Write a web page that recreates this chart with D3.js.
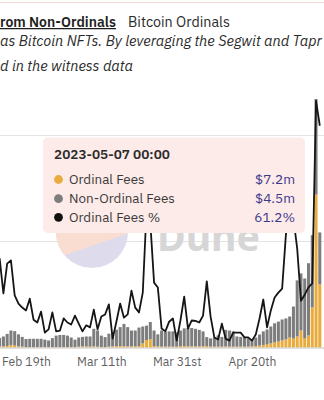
<!DOCTYPE html>
<html>
<head>
<meta charset="utf-8">
<script src="https://cdn.jsdelivr.net/npm/d3@7"></script>
<style>
  html, body { margin: 0; padding: 0; background: #ffffff; }
  svg { display: block; }
</style>
</head>
<body>
<div id="chart"></div>
<script>
// ---------------- DATA ----------------
const startDay = "2023-02-12";
const endDay = "2023-05-09"; // exclusive
// Ordinal fees per day, $ millions
const ordinalFees = [
  0.05,0.05,0.07,0.12,0.09,0.05,0.04,0.02,0.02,0.02,0.02,0.02,0.02,0.02,0.02,0.02,0.02,
  0.02,0.02,0.02,0.02,0.04,0.05,0.05,0.04,0.05,0.04,0.02,0.02,0.04,0.05,0.06,0.07,0.06,0.05,0.05,0.05,0.07,0.19,0.35,0.40,0.07,0.05,0.04,0.04,0.04,0.04,0.04,
  0.05,0.07,0.05,0.05,0.05,0.05,0.05,0.07,0.04,0.04,0.04,0.04,0.05,0.04,0.04,0.04,0.04,0.04,0.04,0.05,0.07,0.09,0.12,0.14,0.19,0.24,0.28,0.33,0.38,0.47,
  0.42,0.52,0.80,0.42,0.57,1.89,7.2,2.97
];
// Non-ordinal fees per day, $ millions
const nonOrdinalFees = [
  0.40,0.47,0.57,0.68,0.68,0.57,0.46,0.38,0.39,0.39,0.39,0.39,0.35,0.31,0.42,0.54,0.57,
  0.57,0.54,0.45,0.35,0.43,0.45,0.47,0.48,0.83,0.76,0.54,0.47,0.61,0.67,0.78,0.89,1.05,0.91,0.75,0.75,0.87,0.80,0.68,0.80,0.73,0.57,0.76,0.69,0.72,0.72,0.67,
  0.75,0.83,0.87,0.87,0.83,0.78,0.71,0.42,0.39,0.43,0.53,0.46,0.78,0.76,0.72,0.48,0.46,0.43,0.39,0.35,0.40,0.52,0.64,0.71,0.80,0.90,0.94,0.99,0.99,0.99,
  1.51,2.64,2.69,2.83,3.40,3.40,4.5,2.45
];
// Ordinal fees share, %
const ordinalPct = [
  22.1,13.4,20.8,21.6,12.9,10.9,9.9,9.2,12.1,6.9,6.2,8.9,3.7,4.5,8.7,4.0,4.2,
  7.2,6.2,5.7,7.9,5.9,4.0,5.5,5.0,9.4,4.5,7.7,8.2,10.7,2.2,6.4,10.9,7.4,8.2,14.1,9.9,8.7,13.6,34,31,16.1,14.9,4.7,4.0,6.4,7.2,1.7,
  6.7,12.6,4.7,6.7,6.6,6.2,7.9,16.4,7.7,2.5,2.0,5.9,2.2,1.7,3.7,3.7,3.7,2.5,2.5,1.7,3.2,7.2,11.9,5.0,9.2,12.4,13.6,14.6,28.0,34,
  32,24.5,11.6,13.1,14.9,15.9,61.2,55.0
];
const seriesNames = ["Ordinal Fees", "Non-Ordinal Fees", "Ordinal Fees %"];
const tickDates = ["2023-02-19", "2023-03-11", "2023-03-31", "2023-04-20"];
const tickLabels = ["Feb 19th", "Mar 11th", "Mar 31st", "Apr 20th"];
const titleParts = ["rom Non-Ordinals", "Bitcoin Ordinals"];
const subtitleLines = ["as Bitcoin NFTs. By leveraging the Segwit and Tapr", "d in the witness data"];
const tooltipDate = "2023-05-07";
const tooltipHeader = "2023-05-07 00:00";
const watermarkText = "Dune";

// ---------------- LAYOUT ----------------
const W = 324, H = 400;
const FONT = "'IBM Plex Sans', Inter, 'Noto Sans', sans-serif";
const colors = { ord: "#e9ab3b", non: "#7d7d7d", line: "#151515", grid: "#e3e3e3", axis: "#c4c4c4", tick: "#5f5f5f" };
const plotBottom = 347.5, plotTop = 29;

const parse = d3.utcParse("%Y-%m-%d");
const dates = d3.utcDay.range(parse(startDay), parse(endDay));
const data = dates.map((d, i) => ({ date: d, ord: ordinalFees[i], non: nonOrdinalFees[i], pct: ordinalPct[i] }));

const svg = d3.select("#chart").append("svg").attr("width", W).attr("height", H)
  .style("font-family", FONT);

const x = d3.scaleUtc().domain([parse(tickDates[0]), parse(tickDates[3])]).range([26, 252]);
const yL = d3.scaleLinear().domain([0, 15]).range([plotBottom, plotTop]);
const yR = d3.scaleLinear().domain([0, 79]).range([plotBottom, plotTop]);
const dayW = x(parse("2023-02-20")) - x(parse("2023-02-19"));
const bw = dayW * 0.8;

function fitFont(sel, target) {
  const w = sel.node().getComputedTextLength();
  const fs = parseFloat(sel.attr("font-size"));
  const nf = fs * target / w;
  sel.attr("font-size", nf);
  return nf;
}

// faint top border line
svg.append("line").attr("x1", 0).attr("x2", W).attr("y1", 2.5).attr("y2", 2.5)
  .attr("stroke", "#f3d8d3").attr("stroke-width", 1);

// Title
const t1 = svg.append("text").attr("x", 0).attr("y", 26.5).attr("font-size", 15)
  .attr("font-weight", 600).attr("fill", "#1e1e1e").text(titleParts[0]);
fitFont(t1, 116);
svg.append("line").attr("x1", 0).attr("x2", 116).attr("y1", 28.6).attr("y2", 28.6)
  .attr("stroke", "#1e1e1e").attr("stroke-width", 1.2);
const t2 = svg.append("text").attr("x", 128).attr("y", 26.5).attr("font-size", 15)
  .attr("fill", "#2a2a2a").text(titleParts[1]);
fitFont(t2, 102);

// Subtitle
const s1 = svg.append("text").attr("x", 0).attr("y", 46).attr("font-size", 15)
  .attr("font-style", "italic").attr("fill", "#2a2a2a").text(subtitleLines[0]);
const sfs = fitFont(s1, 322);
svg.append("text").attr("x", 0).attr("y", 70.5).attr("font-size", sfs)
  .attr("font-style", "italic").attr("fill", "#2a2a2a").text(subtitleLines[1]);

// Gridlines
svg.append("g").selectAll("line").data([5, 10]).join("line")
  .attr("x1", 0).attr("x2", W).attr("y1", d => Math.round(yL(d)) + 0.5).attr("y2", d => Math.round(yL(d)) + 0.5)
  .attr("stroke", colors.grid).attr("stroke-width", 1);

// Watermark
const wm = svg.append("g");
const cx = 92, cy = 232, r = 36;
wm.append("clipPath").attr("id", "wmclip").append("circle").attr("cx", cx).attr("cy", cy).attr("r", r);
wm.append("circle").attr("cx", cx).attr("cy", cy).attr("r", r).attr("fill", "#dedcec");
wm.append("path").attr("clip-path", "url(#wmclip)")
  .attr("d", `M${cx - r - 5},${cy + 28} L${cx + r + 5},${cy - 0.5} L${cx + r + 5},${cy - r - 5} L${cx - r - 5},${cy - r - 5} Z`)
  .attr("fill", "#f9ddd0");
const wt = wm.append("text").attr("x", 157).attr("y", 251).attr("font-size", 40).attr("font-weight", 700)
  .attr("fill", "#d6d6d6").attr("font-family", "'Noto Sans', sans-serif").text(watermarkText);
fitFont(wt, 103);

// Bars
const stack = d3.stack().keys(["ord", "non"]);
const layers = stack(data);
svg.append("g").selectAll("g").data(layers).join("g")
  .attr("fill", (d, i) => i === 0 ? colors.ord : colors.non)
  .selectAll("rect").data(d => d).join("rect")
  .attr("x", d => x(d.data.date) - bw / 2)
  .attr("width", bw)
  .attr("y", d => yL(d[1]))
  .attr("height", d => Math.max(0, yL(d[0]) - yL(d[1])));

// Axis
const xAxis = d3.axisBottom(x).tickValues(tickDates.map(parse)).tickFormat((d, i) => tickLabels[i]).tickSize(0).tickPadding(0);
const ax = svg.append("g").attr("transform", `translate(0,${plotBottom})`).call(xAxis);
ax.select(".domain").remove();
ax.selectAll("text").attr("fill", colors.tick).attr("font-family", FONT).attr("font-size", 13).attr("dy", null);
const xfs = fitFont(ax.select(".tick text"), 49);
ax.selectAll("text").attr("font-size", xfs).attr("y", 18.5);
svg.append("line").attr("x1", 0).attr("x2", W).attr("y1", plotBottom + 0.5).attr("y2", plotBottom + 0.5)
  .attr("stroke", colors.axis).attr("stroke-width", 1);

// Line
const line = d3.line().x(d => x(d.date)).y(d => yR(d.pct));
svg.append("path").datum(data).attr("d", line).attr("fill", "none")
  .attr("stroke", colors.line).attr("stroke-width", 1.8).attr("stroke-linejoin", "round");

// Tooltip
const tip = data.find(d => +d.date === +parse(tooltipDate));
const tg = svg.append("g").attr("transform", "translate(43,137.5)");
tg.append("rect").attr("width", 262).attr("height", 95.5).attr("rx", 5).attr("fill", "#fdebe9");
const hdr = tg.append("text").attr("x", 11).attr("y", 21.5).attr("font-size", 13).attr("font-weight", 600)
  .attr("fill", "#2b2b2b").text(tooltipHeader);
fitFont(hdr, 116);
const rows = [
  { name: seriesNames[0], color: colors.ord, val: `$${tip.ord.toFixed(1)}m` },
  { name: seriesNames[1], color: colors.non, val: `$${tip.non.toFixed(1)}m` },
  { name: seriesNames[2], color: "#111111", val: `${tip.pct.toFixed(1)}%` }
];
const rowY = [42, 61.2, 79.8];
const rg = tg.selectAll("g.row").data(rows).join("g").attr("class", "row")
  .attr("transform", (d, i) => `translate(0,${rowY[i]})`);
rg.append("circle").attr("cx", 15.5).attr("cy", 0).attr("r", 4.4).attr("fill", d => d.color);
const lbl = rg.append("text").attr("x", 26).attr("y", 4.6).attr("font-size", 13).attr("fill", "#3a3a3a").text(d => d.name);
const lfs = fitFont(d3.select(lbl.nodes()[1]), 106);
lbl.attr("font-size", lfs);
const vals = rg.append("text").attr("x", 252).attr("y", 4.6).attr("text-anchor", "end").attr("font-size", 13)
  .attr("fill", "#3b3889").text(d => d.val);
const vfs = fitFont(d3.select(vals.nodes()[0]), 40);
vals.attr("font-size", vfs);
</script>
</body>
</html>
